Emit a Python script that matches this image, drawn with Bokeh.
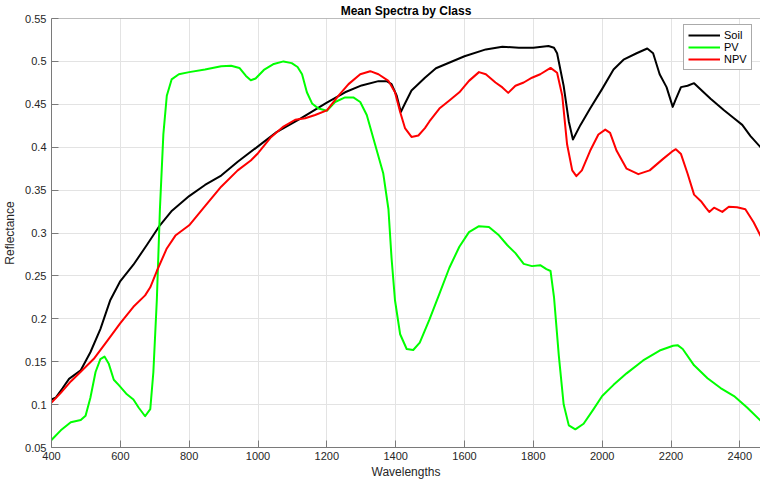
from bokeh.plotting import figure
from bokeh.models import Range1d, FixedTicker, Span
from bokeh.embed import file_html
from bokeh.resources import INLINE

# ---- data ----
soil_wl = [400, 412, 432, 451, 485, 513, 542, 571, 600, 638,
           677, 715, 750, 800, 846, 893, 941, 1000, 1055, 1122,
           1200, 1253, 1301, 1350, 1374, 1388, 1403, 1415, 1427, 1446,
           1485, 1517, 1600, 1662, 1710, 1758, 1800, 1844, 1860, 1869,
           1888, 1903, 1915, 1937, 1965, 2000, 2033, 2062, 2100, 2131,
           2148, 2167, 2187, 2205, 2214, 2229, 2248, 2267, 2287, 2315,
           2354, 2383, 2407, 2431, 2460, 2482, 2500]
soil = [0.106, 0.108, 0.119, 0.130, 0.140, 0.161, 0.188, 0.222, 0.244, 0.263,
        0.286, 0.309, 0.326, 0.343, 0.356, 0.367, 0.383, 0.401, 0.418, 0.433,
        0.452, 0.464, 0.472, 0.477, 0.477, 0.4735, 0.460, 0.441, 0.451, 0.466,
        0.481, 0.492, 0.506, 0.514, 0.517, 0.516, 0.516, 0.518, 0.516, 0.5095,
        0.4716, 0.430, 0.409, 0.426, 0.445, 0.468, 0.4905, 0.502, 0.5095, 0.515,
        0.5095, 0.485, 0.470, 0.447, 0.456, 0.470, 0.4716, 0.4746, 0.467, 0.4564,
        0.443, 0.4337, 0.426, 0.413, 0.400, 0.386, 0.377]

pv_wl = [400, 427, 456, 485, 499, 513, 528, 542, 554, 566,
         581, 595, 619, 638, 653, 672, 687, 696, 706, 715,
         725, 735, 749, 770, 800, 846, 893, 922, 946, 965,
         979, 993, 1017, 1046, 1074, 1098, 1115, 1128, 1142, 1157,
         1176, 1200, 1224, 1253, 1277, 1297, 1316, 1340, 1364, 1379,
         1388, 1398, 1413, 1432, 1451, 1470, 1498, 1527, 1556, 1585,
         1613, 1642, 1671, 1700, 1724, 1748, 1772, 1796, 1820, 1838,
         1850, 1860, 1874, 1888, 1903, 1922, 1946, 1975, 2000, 2033,
         2071, 2119, 2167, 2206, 2219, 2234, 2267, 2306, 2344, 2383,
         2421, 2460, 2482, 2500]
pv = [0.0587, 0.070, 0.0795, 0.082, 0.087, 0.108, 0.138, 0.153, 0.156, 0.148,
      0.129, 0.123, 0.112, 0.106, 0.0966, 0.0864, 0.0947, 0.138, 0.2216, 0.3277,
      0.415, 0.460, 0.479, 0.485, 0.4875, 0.4905, 0.4943, 0.495, 0.4924, 0.483,
      0.478, 0.480, 0.490, 0.497, 0.500, 0.498, 0.4935, 0.485, 0.464, 0.451,
      0.445, 0.4424, 0.4527, 0.458, 0.458, 0.4527, 0.4375, 0.4034, 0.3693, 0.3277,
      0.2708, 0.2216, 0.182, 0.1648, 0.1636, 0.1723, 0.199, 0.229, 0.2595, 0.284,
      0.301, 0.308, 0.307, 0.2973, 0.286, 0.2765, 0.264, 0.2614, 0.2625, 0.258,
      0.2557, 0.2254, 0.157, 0.1004, 0.0758, 0.0712, 0.0777, 0.0947, 0.110, 0.123,
      0.1364, 0.1515, 0.163, 0.1686, 0.1693, 0.1648, 0.1458, 0.1307, 0.1193, 0.110,
      0.0966, 0.0814, 0.0739, 0.068]

npv_wl = [400, 427, 456, 485, 523, 562, 600, 638, 672, 687,
          706, 735, 760, 800, 846, 893, 941, 979, 1000, 1036,
          1074, 1108, 1137, 1166, 1200, 1234, 1263, 1297, 1326, 1350,
          1379, 1398, 1413, 1427, 1446, 1466, 1485, 1498, 1527, 1556,
          1585, 1613, 1642, 1662, 1690, 1710, 1727, 1748, 1772, 1796,
          1820, 1850, 1869, 1884, 1898, 1913, 1925, 1941, 1965, 1989,
          2009, 2023, 2042, 2071, 2105, 2138, 2177, 2206, 2214, 2229,
          2248, 2267, 2287, 2301, 2311, 2325, 2349, 2368, 2392, 2416,
          2440, 2464, 2482, 2500]
npv = [0.1023, 0.1136, 0.127, 0.1383, 0.1534, 0.1742, 0.195, 0.214, 0.2273, 0.2367,
       0.2557, 0.282, 0.297, 0.309, 0.3314, 0.354, 0.373, 0.3845, 0.393, 0.411,
       0.424, 0.432, 0.4337, 0.4375, 0.443, 0.460, 0.4735, 0.485, 0.4886, 0.485,
       0.4773, 0.464, 0.441, 0.4223, 0.412, 0.4136, 0.4223, 0.430, 0.445, 0.4545,
       0.464, 0.4773, 0.4875, 0.485, 0.4754, 0.4697, 0.4633, 0.4716, 0.4754, 0.481,
       0.485, 0.4924, 0.4867, 0.460, 0.4034, 0.373, 0.3663, 0.373, 0.3958, 0.4148,
       0.4205, 0.4167, 0.3958, 0.375, 0.3686, 0.373, 0.3864, 0.3958, 0.3977, 0.392,
       0.3693, 0.3447, 0.3371, 0.3295, 0.3246, 0.3295, 0.3246, 0.3307, 0.330, 0.3277,
       0.3125, 0.2936, 0.2803, 0.268]

x_ticks = [400, 600, 800, 1000, 1200, 1400, 1600, 1800, 2000, 2200, 2400]
y_ticks = [0.05, 0.1, 0.15, 0.2, 0.25, 0.3, 0.35, 0.4, 0.45, 0.5, 0.55]
y_tick_labels = ["0.05", "0.1", "0.15", "0.2", "0.25", "0.3", "0.35", "0.4", "0.45", "0.5", "0.55"]

FONT = "Liberation Sans"
AX = "#7a7a7a"
TXT = "#262626"

p = figure(width=760, height=481, output_backend="svg", toolbar_location=None,
           x_range=Range1d(400, 2460), y_range=Range1d(0.05, 0.55),
           min_border_left=46, min_border_right=0, min_border_top=16, min_border_bottom=0,
           title="Mean Spectra by Class")
p.outline_line_color = None
p.background_fill_color = "white"
p.border_fill_color = "white"

p.title.align = "center"
p.title.text_font = FONT
p.title.text_font_size = "12px"
p.title.text_font_style = "bold"
p.title.text_color = "black"
p.title.standoff = 2

xt = FixedTicker(ticks=x_ticks)
yt = FixedTicker(ticks=y_ticks)

for ax in (p.xaxis[0], p.yaxis[0]):
    ax.major_tick_in = 7
    ax.major_tick_out = 0
    ax.minor_tick_line_color = None
    ax.axis_line_color = AX
    ax.major_tick_line_color = AX
    ax.major_label_text_font = FONT
    ax.major_label_text_font_size = "11px"
    ax.major_label_text_color = TXT
    ax.axis_label_text_font = FONT
    ax.axis_label_text_font_size = "12px"
    ax.axis_label_text_font_style = "normal"
    ax.axis_label_text_color = TXT

p.xaxis[0].ticker = xt
p.yaxis[0].ticker = yt
p.yaxis[0].major_label_overrides = {v: s for v, s in zip(y_ticks, y_tick_labels)}
p.xaxis[0].axis_label = "Wavelengths"
p.yaxis[0].axis_label = "Reflectance"
p.xaxis[0].major_label_standoff = 4
p.xaxis[0].axis_label_standoff = 2
p.yaxis[0].major_label_standoff = 5
p.yaxis[0].axis_label_standoff = 5

# top frame border
p.add_layout(Span(location=0.55, dimension="width", line_color=AX, line_width=1))

p.xgrid.ticker = xt
p.ygrid.ticker = yt
p.xgrid.grid_line_color = "#e3e3e3"
p.ygrid.grid_line_color = "#e3e3e3"

p.line(soil_wl, soil, line_color="black", line_width=2, line_join="round", legend_label="Soil")
p.line(pv_wl, pv, line_color="#00ff00", line_width=2, line_join="round", legend_label="PV")
p.line(npv_wl, npv, line_color="#ff0000", line_width=2, line_join="round", legend_label="NPV")

lg = p.legend[0]
lg.location = (632, 377)
lg.margin = 0
lg.padding = 4
lg.spacing = 0
lg.glyph_width = 32
lg.glyph_height = 12
lg.label_height = 12
lg.label_standoff = 4
lg.label_text_font = FONT
lg.label_text_font_size = "11px"
lg.label_text_color = "black"
lg.border_line_color = "#555555"
lg.border_line_width = 1
lg.background_fill_alpha = 1

open("out.html", "w").write(file_html(p, INLINE))
